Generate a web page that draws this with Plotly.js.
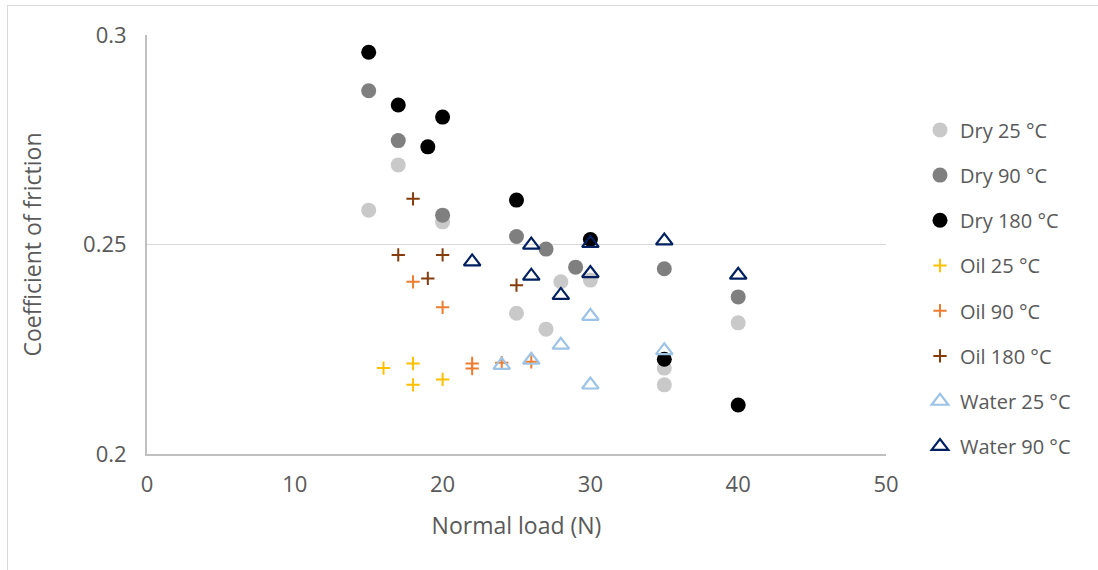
<!DOCTYPE html>
<html>
<head>
<meta charset="utf-8">
<script src="https://cdn.plot.ly/plotly-3.0.1.min.js"></script>
<style>
  html, body { margin: 0; padding: 0; background: #ffffff; }
  #wrap { position: relative; width: 1098px; height: 570px; overflow: hidden; }
  #chart { width: 1098px; height: 570px; }
  #frame { position: absolute; left: 7px; top: 5px; width: 1200px; height: 700px;
           border-left: 1px solid #d9d9d9; border-top: 1px solid #d9d9d9; pointer-events: none; }
</style>
</head>
<body>
<div id="wrap">
  <div id="chart"></div>
  <div id="frame"></div>
</div>
<script>
// Normal load (N) and coefficient of friction, per condition
const dry25X = [15, 17, 20, 25, 27, 28, 30, 35, 35, 40];
const dry25Y = [0.2582, 0.2690, 0.2554, 0.2336, 0.2298, 0.2411, 0.2415, 0.2205, 0.2165, 0.2313];

const dry90X = [15, 17, 20, 25, 27, 29, 35, 40];
const dry90Y = [0.2867, 0.2748, 0.2570, 0.2519, 0.2489, 0.2446, 0.2442, 0.2375];

const dry180X = [15, 17, 19, 20, 25, 30, 35, 40];
const dry180Y = [0.2959, 0.2833, 0.2733, 0.2804, 0.2606, 0.2512, 0.2226, 0.2117];

const oil25X = [16, 18, 18, 20];
const oil25Y = [0.2205, 0.2216, 0.2165, 0.2178];

const oil90X = [18, 20, 22, 22, 24, 26];
const oil90Y = [0.2411, 0.2350, 0.2216, 0.2204, 0.2218, 0.2220];

const oil180X = [17, 18, 19, 20, 25];
const oil180Y = [0.2475, 0.2609, 0.2419, 0.2475, 0.2403];

const water25X = [24, 26, 28, 30, 30, 35];
const water25Y = [0.2212, 0.2224, 0.2260, 0.2329, 0.2165, 0.2247];

const water90X = [22, 26, 26, 28, 30, 30, 35, 40];
const water90Y = [0.2459, 0.2499, 0.2425, 0.2379, 0.2503, 0.2431, 0.2509, 0.2427];

const seriesNames = ["Dry 25 °C", "Dry 90 °C", "Dry 180 °C", "Oil 25 °C", "Oil 90 °C", "Oil 180 °C", "Water 25 °C", "Water 90 °C"];
const xTickVals = [0, 10, 20, 30, 40, 50];
const yTickVals = [0.2, 0.25, 0.3];
const yTickText = ["0.2", "0.25", "0.3"];

const FONT = "Open Sans, Noto Sans, sans-serif";
const TXT = "#595959";

function circle(name, xs, ys, color) {
  return { type: "scatter", mode: "markers", name: name, x: xs, y: ys, legendgroup: name,
    marker: { symbol: "circle", size: 15, color: color, line: { width: 0 } } };
}
function cross(name, xs, ys, color) {
  return { type: "scatter", mode: "markers", name: name, x: xs, y: ys, legendgroup: name,
    marker: { symbol: "cross-thin-open", size: 9.5, color: color, line: { width: 2, color: color } } };
}
function tri(name, xs, ys, color) {
  return { type: "scatter", mode: "markers", name: name, x: xs, y: ys, legendgroup: name,
    marker: { symbol: "triangle-up-open", size: 14.5, color: color, line: { width: 2.2, color: color } } };
}

const data = [
  circle(seriesNames[0], dry25X, dry25Y, "#c9c9c9"),
  circle(seriesNames[1], dry90X, dry90Y, "#7f7f7f"),
  circle(seriesNames[2], dry180X, dry180Y, "#000000"),
  cross(seriesNames[3], oil25X, oil25Y, "#ffc000"),
  cross(seriesNames[4], oil90X, oil90Y, "#ed7d31"),
  cross(seriesNames[5], oil180X, oil180Y, "#843c0c"),
  tri(seriesNames[6], water25X, water25Y, "#9dc3e6"),
  tri(seriesNames[7], water90X, water90Y, "#002060")
];

const layout = {
  width: 1098, height: 570,
  margin: { l: 147, r: 212, t: 35, b: 116 },
  paper_bgcolor: "#ffffff", plot_bgcolor: "#ffffff",
  font: { family: FONT, color: TXT, size: 22 },
  showlegend: true,
  legend: {
    x: 1.046, xanchor: "left", y: 0.82, yanchor: "top",
    font: { family: FONT, size: 20, color: TXT },
    traceorder: "grouped", tracegroupgap: 16.2,
    bgcolor: "rgba(0,0,0,0)", borderwidth: 0
  },
  xaxis: {
    range: [0, 50], tickvals: xTickVals, ticks: "", showgrid: false, zeroline: false,
    showline: true, linecolor: "#bfbfbf", linewidth: 2,
    tickfont: { family: FONT, size: 22, color: TXT }, ticklabelstandoff: 10,
    title: { text: "Normal load (N)", font: { family: FONT, size: 23, color: TXT }, standoff: 20 }
  },
  yaxis: {
    range: [0.2, 0.3], tickvals: yTickVals, ticktext: yTickText, ticks: "",
    showgrid: true, gridcolor: "#d9d9d9", gridwidth: 1.5, zeroline: false,
    showline: true, linecolor: "#bfbfbf", linewidth: 2,
    tickfont: { family: FONT, size: 22, color: TXT }, ticklabelstandoff: 14,
    title: { text: "Coefficient of friction", font: { family: FONT, size: 23, color: TXT }, standoff: 35 }
  }
};

Plotly.newPlot("chart", data, layout, { displayModeBar: false, staticPlot: true });
</script>
</body>
</html>
